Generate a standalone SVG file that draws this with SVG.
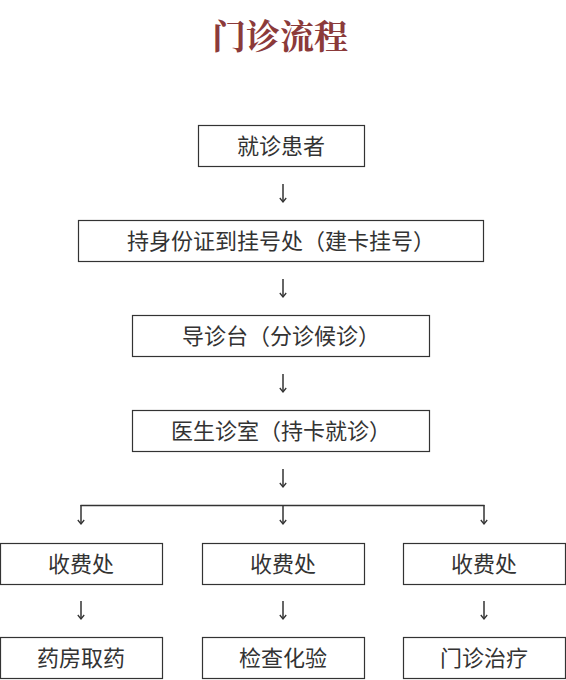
<svg xmlns="http://www.w3.org/2000/svg" width="566" height="680" viewBox="0 0 566 680">
<style>
.box{fill:#fff;stroke:#333;stroke-width:1.2}
.t{font-family:"Noto Sans CJK SC","Noto Sans",sans-serif;font-size:22px;fill:#333;text-anchor:middle;dominant-baseline:central}
.title{font-family:"Noto Serif CJK SC","Noto Sans CJK SC",serif;font-size:34px;font-weight:bold;fill:#8B3A3A;text-anchor:middle}
.c{stroke:#333;stroke-width:1.5;fill:none}
</style>
<defs>
<marker id="ah" viewBox="0 0 10 10" refX="9" refY="5" markerWidth="8" markerHeight="8" orient="auto" markerUnits="userSpaceOnUse">
<path d="M4,1 L9,5 L4,9" fill="none" stroke="#333" stroke-width="1.6"/>
</marker>
</defs>
<rect width="566" height="680" fill="#fff"/>
<text class="title" x="280" y="49">门诊流程</text>
<g id="n1"><rect class="box" x="198.5" y="125.5" width="166" height="41"/><text class="t" x="281" y="144">就诊患者</text></g>
<g id="n2"><rect class="box" x="78.5" y="220.5" width="405" height="41"/><text class="t" x="281" y="239">持身份证到挂号处（建卡挂号）</text></g>
<g id="n3"><rect class="box" x="132.5" y="315.5" width="297" height="41"/><text class="t" x="281" y="334">导诊台（分诊候诊）</text></g>
<g id="n4"><rect class="box" x="132.5" y="410.5" width="297" height="41"/><text class="t" x="281" y="429">医生诊室（持卡就诊）</text></g>
<g id="n5"><rect class="box" x="0.5" y="543.5" width="162" height="41"/><text class="t" x="81" y="562">收费处</text></g>
<g id="n6"><rect class="box" x="202.5" y="543.5" width="162" height="41"/><text class="t" x="283" y="562">收费处</text></g>
<g id="n7"><rect class="box" x="403.5" y="543.5" width="162" height="41"/><text class="t" x="484" y="562">收费处</text></g>
<g id="n8"><rect class="box" x="0.5" y="637.5" width="162" height="41"/><text class="t" x="81" y="656">药房取药</text></g>
<g id="n9"><rect class="box" x="202.5" y="637.5" width="162" height="41"/><text class="t" x="283" y="656">检查化验</text></g>
<g id="n10"><rect class="box" x="403.5" y="637.5" width="162" height="41"/><text class="t" x="484" y="656">门诊治疗</text></g>
<g id="connectors">
<line class="c" x1="283" y1="184" x2="283" y2="202" marker-end="url(#ah)"/>
<line class="c" x1="283" y1="279" x2="283" y2="297" marker-end="url(#ah)"/>
<line class="c" x1="283" y1="374" x2="283" y2="392" marker-end="url(#ah)"/>
<line class="c" x1="283" y1="469" x2="283" y2="487" marker-end="url(#ah)"/>
<line class="c" x1="80.5" y1="505.5" x2="484.5" y2="505.5"/>
<line class="c" x1="81" y1="505" x2="81" y2="524" marker-end="url(#ah)"/>
<line class="c" x1="283" y1="505" x2="283" y2="524" marker-end="url(#ah)"/>
<line class="c" x1="484" y1="505" x2="484" y2="524" marker-end="url(#ah)"/>
<line class="c" x1="81" y1="601" x2="81" y2="619" marker-end="url(#ah)"/>
<line class="c" x1="283" y1="601" x2="283" y2="619" marker-end="url(#ah)"/>
<line class="c" x1="484" y1="601" x2="484" y2="619" marker-end="url(#ah)"/>
</g>
</svg>
